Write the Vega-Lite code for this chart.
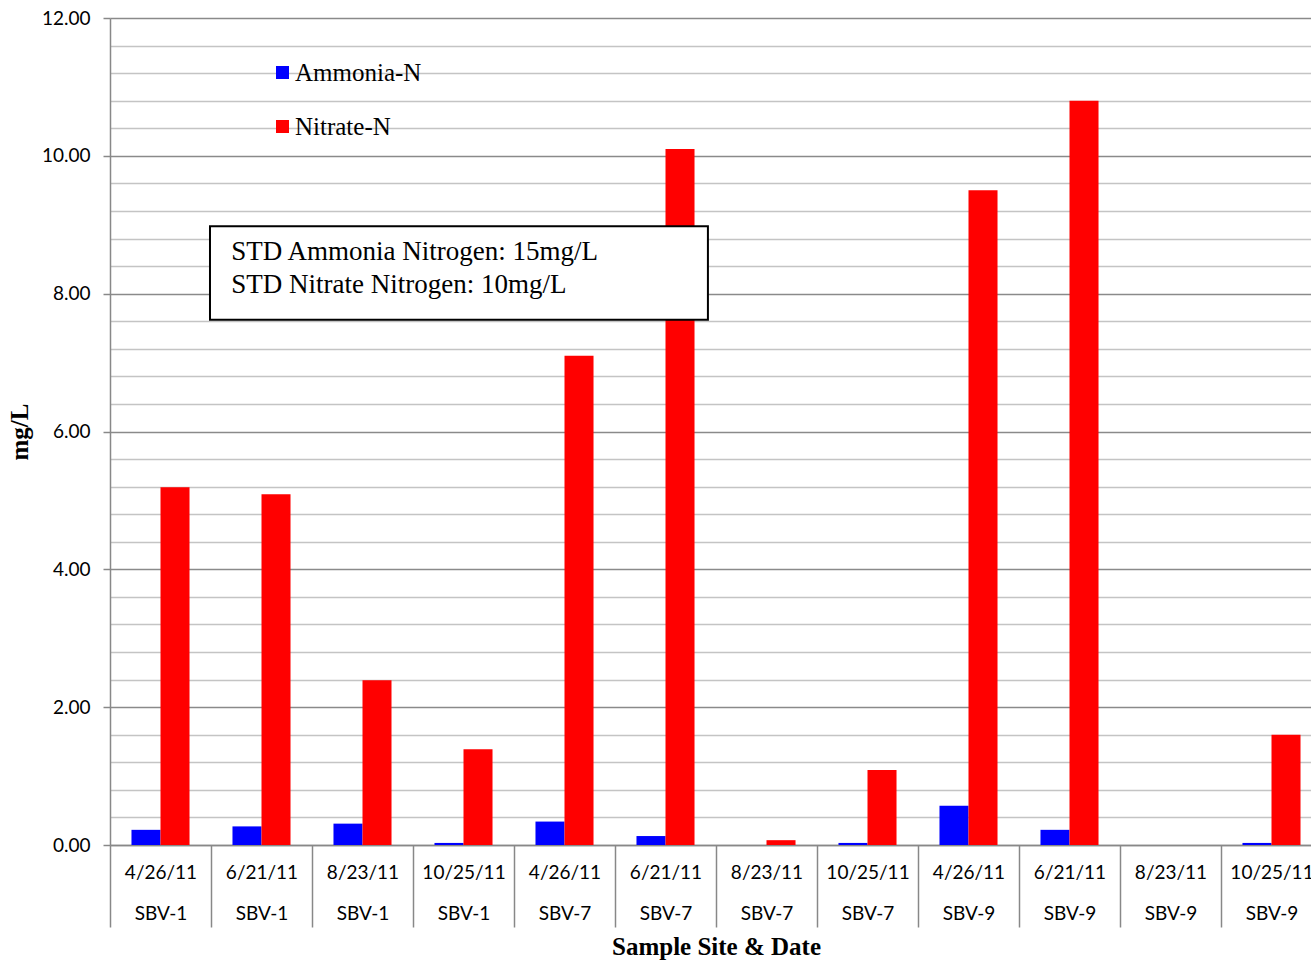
{
  "$schema": "https://vega.github.io/schema/vega-lite/v6.json",
  "width": 1212,
  "height": 827,
  "autosize": "none",
  "padding": {"left": 110, "top": 18, "right": 0, "bottom": 118},
  "background": "white",
  "config": {"view": {"stroke": null}},
  "datasets": {
    "bars": [
      {"sample": "4/26/11|SBV-1", "species": "Ammonia-N", "value": 0.22},
      {"sample": "4/26/11|SBV-1", "species": "Nitrate-N", "value": 5.19},
      {"sample": "6/21/11|SBV-1", "species": "Ammonia-N", "value": 0.27},
      {"sample": "6/21/11|SBV-1", "species": "Nitrate-N", "value": 5.09},
      {"sample": "8/23/11|SBV-1", "species": "Ammonia-N", "value": 0.31},
      {"sample": "8/23/11|SBV-1", "species": "Nitrate-N", "value": 2.39},
      {"sample": "10/25/11|SBV-1", "species": "Ammonia-N", "value": 0.03},
      {"sample": "10/25/11|SBV-1", "species": "Nitrate-N", "value": 1.39},
      {"sample": "4/26/11|SBV-7", "species": "Ammonia-N", "value": 0.34},
      {"sample": "4/26/11|SBV-7", "species": "Nitrate-N", "value": 7.1},
      {"sample": "6/21/11|SBV-7", "species": "Ammonia-N", "value": 0.13},
      {"sample": "6/21/11|SBV-7", "species": "Nitrate-N", "value": 10.1},
      {"sample": "8/23/11|SBV-7", "species": "Ammonia-N", "value": 0},
      {"sample": "8/23/11|SBV-7", "species": "Nitrate-N", "value": 0.07},
      {"sample": "10/25/11|SBV-7", "species": "Ammonia-N", "value": 0.03},
      {"sample": "10/25/11|SBV-7", "species": "Nitrate-N", "value": 1.09},
      {"sample": "4/26/11|SBV-9", "species": "Ammonia-N", "value": 0.57},
      {"sample": "4/26/11|SBV-9", "species": "Nitrate-N", "value": 9.5},
      {"sample": "6/21/11|SBV-9", "species": "Ammonia-N", "value": 0.22},
      {"sample": "6/21/11|SBV-9", "species": "Nitrate-N", "value": 10.8},
      {"sample": "8/23/11|SBV-9", "species": "Ammonia-N", "value": 0},
      {"sample": "8/23/11|SBV-9", "species": "Nitrate-N", "value": 0},
      {"sample": "10/25/11|SBV-9", "species": "Ammonia-N", "value": 0.03},
      {"sample": "10/25/11|SBV-9", "species": "Nitrate-N", "value": 1.6}
    ],
    "box": [{"x1": 0.99, "x2": 5.92, "y1": 7.62, "y2": 8.98}],
    "notes": [
      {"x": 1.2, "y": 8.6, "text": "STD Ammonia Nitrogen: 15mg/L"},
      {"x": 1.2, "y": 8.13, "text": "STD Nitrate Nitrogen: 10mg/L"}
    ]
  },
  "layer": [
    {
      "data": {"name": "bars"},
      "mark": {"type": "bar"},
      "encoding": {
        "x": {
          "field": "sample",
          "type": "nominal",
          "sort": null,
          "scale": {"paddingInner": 0, "paddingOuter": 0},
          "axis": {
            "title": "Sample Site & Date",
            "titleFont": "Liberation Serif",
            "titleFontSize": 25,
            "titleFontWeight": "bold",
            "titleColor": "black",
            "titlePadding": 7,
            "labelExpr": "isValid(datum.value) ? split(datum.value, '|') : ''",
            "labelFont": "Lato",
            "labelFontSize": 19,
            "labelColor": "black",
            "labelAngle": 0,
            "labelBaseline": "top",
            "labelLineHeight": 41,
            "labelPadding": -64,
            "tickBand": "extent",
            "tickSize": 82,
            "tickColor": "#888888",
            "tickWidth": 1.5,
            "domainColor": "#888888",
            "domainWidth": 1.5
          }
        },
        "xOffset": {"field": "species", "type": "nominal", "scale": {"paddingInner": 0, "paddingOuter": 0.74}},
        "y": {
          "field": "value",
          "type": "quantitative",
          "scale": {"domain": [0, 12], "nice": false},
          "axis": {
            "title": "mg/L",
            "titleFont": "Liberation Serif",
            "titleFontSize": 25,
            "titleFontWeight": "bold",
            "titleColor": "black",
            "titlePadding": 9,
            "values": [0, 0.4, 0.8, 1.2, 1.6, 2, 2.4, 2.8, 3.2, 3.6, 4, 4.4, 4.8, 5.2, 5.6, 6, 6.4, 6.8, 7.2, 7.6, 8, 8.4, 8.8, 9.2, 9.6, 10, 10.4, 10.8, 11.2, 11.6, 12],
            "tickCount": 40,
            "labelExpr": "abs(datum.value - round(datum.value / 2) * 2) < 0.001 ? format(datum.value, '.2f') : ''",
            "labelOverlap": false,
            "labelFont": "Lato",
            "labelFontSize": 19,
            "labelColor": "black",
            "labelPadding": 13,
            "grid": true,
            "gridColor": {"condition": {"test": "abs(datum.value - round(datum.value / 2) * 2) < 0.001", "value": "#8a8a8a"}, "value": "#c4c4c4"},
            "gridWidth": 1.5,
            "tickColor": {"condition": {"test": "abs(datum.value - round(datum.value / 2) * 2) < 0.001", "value": "#888888"}, "value": "transparent"},
            "tickSize": 7,
            "tickWidth": 1.5,
            "domainColor": "#888888",
            "domainWidth": 1.5
          }
        },
        "color": {
          "field": "species",
          "type": "nominal",
          "scale": {"domain": ["Ammonia-N", "Nitrate-N"], "range": ["#0000FF", "#FF0000"]},
          "legend": {
            "title": null,
            "orient": "none",
            "legendX": 160,
            "legendY": 42,
            "symbolType": "square",
            "symbolSize": 169,
            "symbolStrokeWidth": 0,
            "symbolOpacity": 1,
            "labelFont": "Liberation Serif",
            "labelFontSize": 25,
            "labelColor": "black",
            "labelOffset": 0,
            "rowPadding": 28
          }
        }
      }
    },
    {
      "data": {"name": "box"},
      "mark": {"type": "rect", "fill": "white", "stroke": "black", "strokeWidth": 2},
      "encoding": {
        "x": {"field": "x1", "type": "quantitative", "scale": {"domain": [0, 12], "nice": false}, "axis": null},
        "x2": {"field": "x2"},
        "y": {"field": "y1", "type": "quantitative"},
        "y2": {"field": "y2"}
      }
    },
    {
      "data": {"name": "notes"},
      "mark": {"type": "text", "align": "left", "baseline": "middle", "font": "Liberation Serif", "fontSize": 27, "color": "black"},
      "encoding": {
        "x": {"field": "x", "type": "quantitative", "scale": {"domain": [0, 12], "nice": false}, "axis": null},
        "y": {"field": "y", "type": "quantitative"},
        "text": {"field": "text"}
      }
    }
  ],
  "resolve": {"scale": {"x": "independent"}}
}
